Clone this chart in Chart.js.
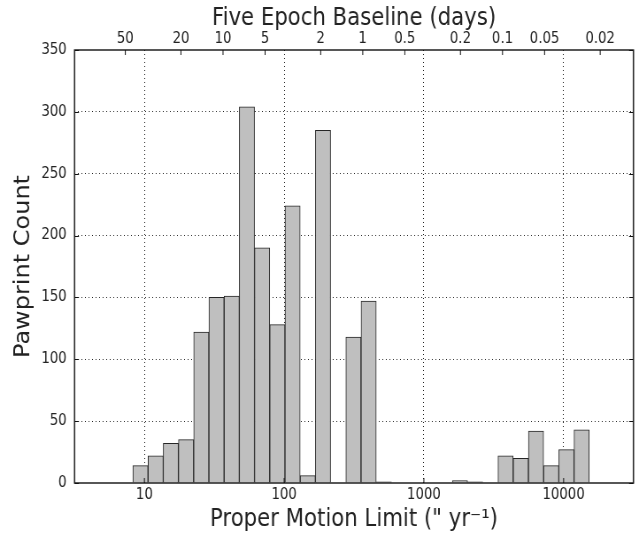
<!DOCTYPE html>
<html><head><meta charset="utf-8">
<script src="https://cdn.jsdelivr.net/npm/chart.js@4/dist/chart.umd.min.js"></script>
<style>
html,body{margin:0;padding:0;background:#fff;overflow:hidden;}
#wrap{width:722px;height:534px;transform:scaleX(0.885);transform-origin:0 0;}
</style></head><body>
<div id="wrap"><canvas id="c" width="722" height="534"></canvas></div>
<script>
// Histogram bins (log-spaced), centre of each bin in arcsec/yr
const binCenters = [9.3665, 12.0352, 15.4643, 19.8704, 25.5319, 32.8064, 42.1536, 54.1640, 69.5964, 89.4258,
  114.905, 147.644, 189.711, 243.763, 313.216, 402.458, 517.126, 664.466, 853.786, 1097.047,
  1409.618, 1811.246, 2327.306, 2990.402, 3842.427, 4937.21, 6343.92, 8151.43, 10473.94, 13458.19];
// Pawprint counts per bin
const counts = [14, 22, 32, 35, 122, 150, 151, 304, 190, 128,
  224, 6, 285, 0, 118, 147, 1, 0, 0, 0,
  0, 2, 1, 0, 22, 20, 42, 14, 27, 43];
const yTicks = [0, 50, 100, 150, 200, 250, 300, 350];
const pmTicks = [10, 100, 1000, 10000];
const dayTicks = [50, 20, 10, 5, 2, 1, 0.5, 0.2, 0.1, 0.05, 0.02];
const pmRange = [3.16228, 31622.8];
const daysPerYear = 365.25;

const FONT = "'DejaVu Sans'";
const TXT = '#222';

const frame = {
  id: 'frame',
  afterDraw(chart) {
    const {ctx, chartArea: a, scales} = chart;
    ctx.save();
    ctx.strokeStyle = '#111';
    ctx.lineWidth = 1;
    const L = 5;
    ctx.beginPath();
    yTicks.forEach(v => {
      const y = Math.round(scales.y.getPixelForValue(v)) + 0.5;
      ctx.moveTo(a.left, y); ctx.lineTo(a.left + L, y);
      ctx.moveTo(a.right, y); ctx.lineTo(a.right - L, y);
    });
    pmTicks.forEach(v => {
      const x = scales.x.getPixelForValue(v);
      ctx.moveTo(x, a.bottom); ctx.lineTo(x, a.bottom - L);
    });
    dayTicks.forEach(v => {
      const x = scales.x2.getPixelForValue(v);
      ctx.moveTo(x, a.top); ctx.lineTo(x, a.top + L);
    });
    ctx.stroke();
    ctx.lineWidth = 1.4;
    ctx.strokeRect(a.left, a.top, a.right - a.left, a.bottom - a.top);
    ctx.restore();
  }
};

new Chart(document.getElementById('c'), {
  type: 'bar',
  data: {
    datasets: [{
      data: binCenters.map((c, i) => ({x: c, y: counts[i]})),
      backgroundColor: '#bfbfbf',
      borderColor: '#262626',
      borderWidth: 1,
      barPercentage: 1,
      categoryPercentage: 1,
      xAxisID: 'x',
      yAxisID: 'y'
    }]
  },
  options: {
    responsive: false,
    devicePixelRatio: 1,
    animation: false,
    layout: {padding: {left: 0, right: 6.2, top: 0, bottom: 0}},
    plugins: {legend: {display: false}, tooltip: {enabled: false}},
    scales: {
      x: {
        type: 'logarithmic',
        position: 'bottom',
        offset: false,
        min: pmRange[0], max: pmRange[1],
        z: 1,
        afterBuildTicks: s => { s.ticks = pmTicks.map(v => ({value: v})); },
        afterFit: s => { s.height = 51; },
        ticks: {autoSkip: false, maxRotation: 0, padding: 3, color: TXT,
          font: {family: FONT, size: 15}, callback: v => String(v)},
        grid: {display: true, offset: false, drawTicks: false, color: '#222', lineWidth: 1},
        border: {display: false, dash: [1, 3]},
        title: {display: true, text: 'Proper Motion Limit (" yr\u207B\u00B9)', color: TXT,
          font: {family: FONT, size: 24}, padding: {top: 0, bottom: 0}}
      },
      x2: {
        type: 'logarithmic',
        position: 'top',
        reverse: true,
        display: true,
        offset: false,
        min: daysPerYear / pmRange[1], max: daysPerYear / pmRange[0],
        afterBuildTicks: s => { s.ticks = dayTicks.map(v => ({value: v})); },
        afterFit: s => { s.height = 50; },
        ticks: {autoSkip: false, maxRotation: 0, padding: 1.5, color: TXT,
          font: {family: FONT, size: 15}, callback: v => String(v)},
        grid: {display: false, offset: false, drawTicks: false},
        border: {display: false},
        title: {display: true, text: 'Five Epoch Baseline (days)', color: TXT,
          font: {family: FONT, size: 24}, padding: {top: 4, bottom: 0}}
      },
      y: {
        type: 'linear',
        position: 'left',
        min: 0, max: 350,
        z: 1,
        afterBuildTicks: s => { s.ticks = yTicks.map(v => ({value: v})); },
        afterFit: s => { s.width = 84.2; },
        ticks: {padding: 8.8, color: TXT, font: {family: FONT, size: 15}},
        grid: {display: true, drawTicks: false, lineWidth: 1,
          color: c => (c.tick && (c.tick.value === 0 || c.tick.value === 350)) ? 'rgba(0,0,0,0)' : '#222'},
        border: {display: false, dash: [1, 3]},
        title: {display: true, text: 'Pawprint Count', color: TXT,
          font: {family: FONT, size: 24}, padding: {top: 12.5, bottom: 0}}
      }
    }
  },
  plugins: [frame]
});
</script>
</body></html>
